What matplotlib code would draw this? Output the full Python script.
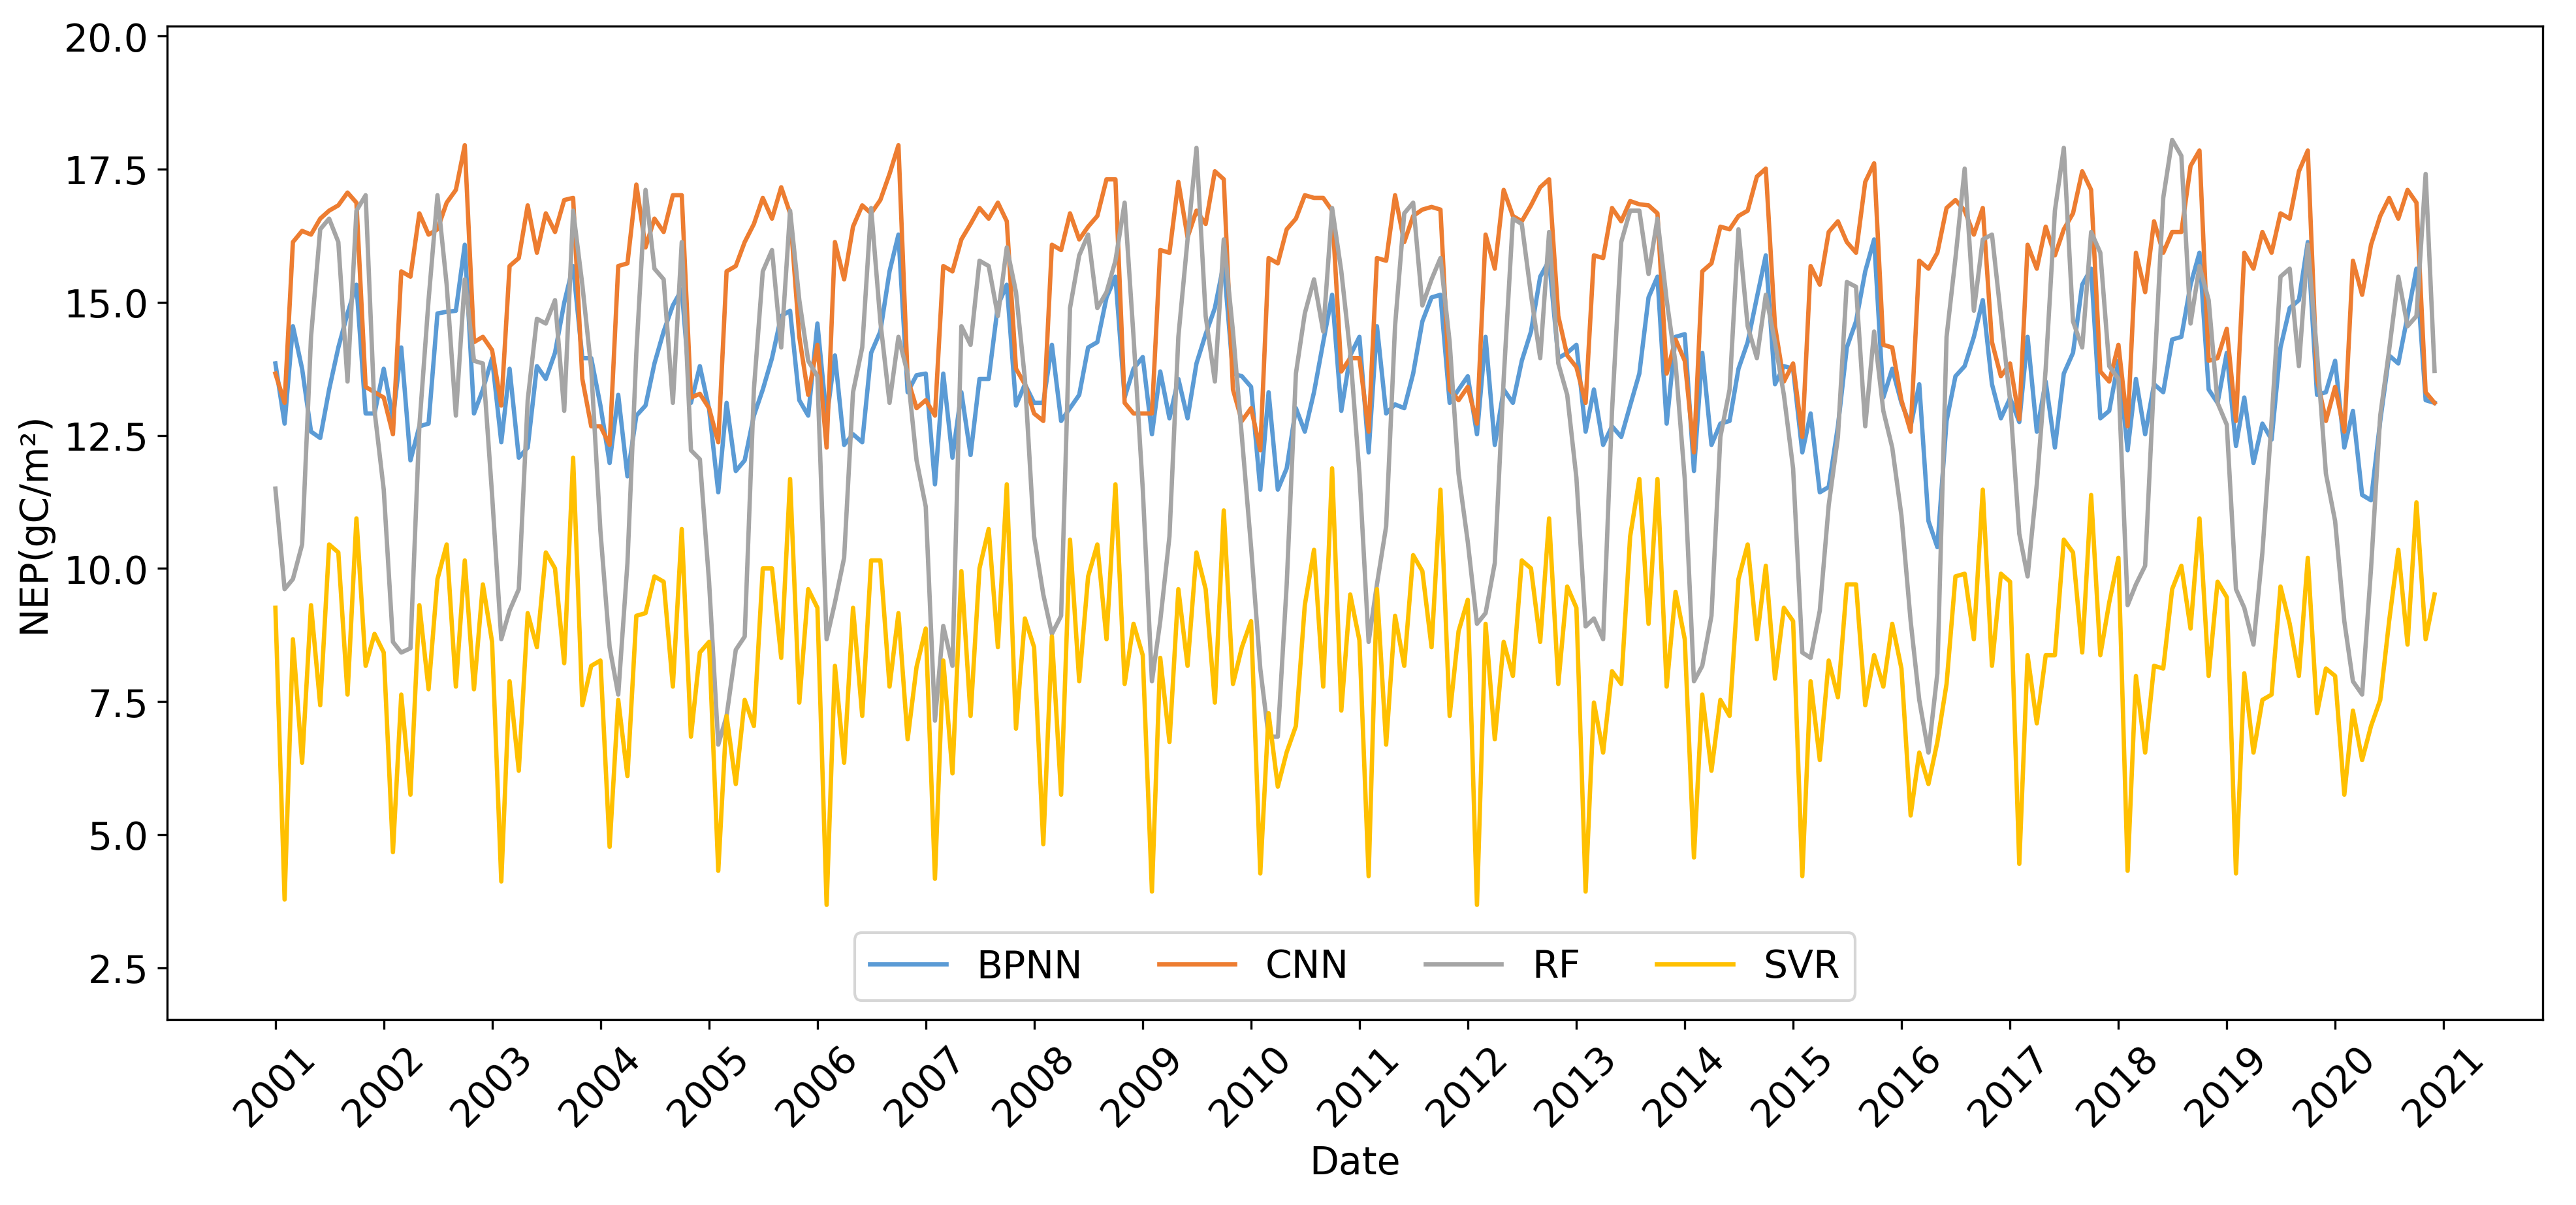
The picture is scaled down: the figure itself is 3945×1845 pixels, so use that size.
import matplotlib
matplotlib.use("Agg")
import matplotlib.pyplot as plt
import matplotlib.dates as mdates
import numpy as np
import pandas as pd

# monthly NEP estimates, Jan 2001 - Dec 2020 (one row per year)
dates = pd.date_range("2001-01-01", periods=240, freq="MS")

bpnn = [
    13.85, 12.72, 14.55, 13.75, 12.57, 12.45, 13.36, 14.15, 14.79, 15.33, 12.91, 12.91,
    13.75, 12.82, 14.15, 12.03, 12.67, 12.72, 14.79, 14.82, 14.84, 16.08, 12.91, 13.36,
    13.95, 12.37, 13.75, 12.08, 12.27, 13.80, 13.56, 14.05, 14.99, 15.68, 13.95, 13.95,
    13.06, 11.98, 13.26, 11.73, 12.87, 13.06, 13.85, 14.45, 14.94, 15.24, 13.11, 13.80,
    13.00, 11.43, 13.11, 11.83, 12.03, 12.87, 13.36, 13.95, 14.74, 14.84, 13.16, 12.87,
    14.60, 12.82, 14.00, 12.32, 12.52, 12.37, 14.05, 14.45, 15.58, 16.27, 13.31, 13.63,
    13.66, 11.58, 13.66, 12.08, 13.31, 12.13, 13.56, 13.56, 14.94, 15.33, 13.06, 13.46,
    13.11, 13.11, 14.20, 12.77, 13.01, 13.26, 14.15, 14.25, 15.09, 15.48, 13.21, 13.75,
    13.97, 12.52, 13.70, 12.82, 13.56, 12.82, 13.85, 14.40, 14.89, 15.73, 13.66, 13.61,
    13.41, 11.48, 13.31, 11.48, 11.88, 13.01, 12.57, 13.31, 14.25, 15.14, 12.96, 14.00,
    14.35, 12.18, 14.55, 12.91, 13.08, 13.01, 13.66, 14.64, 15.09, 15.14, 13.11, 13.36,
    13.61, 12.52, 14.35, 12.32, 13.36, 13.11, 13.90, 14.45, 15.48, 15.78, 13.95, 14.05,
    14.20, 12.57, 13.36, 12.32, 12.67, 12.47, 13.06, 13.66, 15.09, 15.48, 12.72, 14.35,
    14.40, 11.83, 14.05, 12.32, 12.72, 12.77, 13.75, 14.25, 15.09, 15.88, 13.46, 13.80,
    13.75, 12.18, 12.91, 11.43, 11.53, 12.67, 14.15, 14.64, 15.58, 16.18, 13.21, 13.75,
    13.11, 12.67, 13.46, 10.89, 10.40, 12.77, 13.61, 13.80, 14.35, 15.04, 13.46, 12.82,
    13.20, 12.75, 14.35, 12.57, 13.51, 12.27, 13.66, 14.05, 15.33, 15.63, 12.82, 12.96,
    13.90, 12.22, 13.56, 12.52, 13.46, 13.31, 14.30, 14.35, 15.33, 15.93, 13.36, 13.11,
    14.05, 12.30, 13.21, 11.98, 12.72, 12.42, 14.15, 14.89, 15.04, 16.13, 13.26, 13.31,
    13.90, 12.27, 12.96, 11.38, 11.28, 12.77, 14.00, 13.85, 14.74, 15.63, 13.16, 13.11,
]

cnn = [
    13.66, 13.11, 16.13, 16.34, 16.27, 16.57, 16.72, 16.82, 17.06, 16.87, 13.41, 13.31,
    13.21, 12.52, 15.58, 15.48, 16.67, 16.27, 16.37, 16.87, 17.11, 17.95, 14.25, 14.35,
    14.10, 13.06, 15.68, 15.83, 16.82, 15.93, 16.67, 16.32, 16.92, 16.96, 13.56, 12.67,
    12.67, 12.32, 15.68, 15.73, 17.21, 16.03, 16.57, 16.32, 17.01, 17.01, 13.21, 13.28,
    13.01, 12.37, 15.58, 15.68, 16.13, 16.47, 16.96, 16.57, 17.16, 16.67, 14.35, 13.26,
    14.20, 12.27, 16.13, 15.43, 16.42, 16.82, 16.67, 16.92, 17.41, 17.95, 13.56, 13.01,
    13.16, 12.87, 15.68, 15.58, 16.18, 16.47, 16.77, 16.57, 16.87, 16.52, 13.75, 13.46,
    12.91, 12.77, 16.08, 15.98, 16.67, 16.18, 16.42, 16.62, 17.31, 17.31, 13.11, 12.91,
    12.91, 12.91, 15.98, 15.93, 17.26, 16.22, 16.72, 16.47, 17.46, 17.31, 13.36, 12.77,
    13.01, 12.22, 15.83, 15.73, 16.37, 16.57, 17.01, 16.96, 16.96, 16.72, 13.70, 13.95,
    13.95, 12.57, 15.83, 15.78, 17.01, 16.13, 16.62, 16.74, 16.79, 16.74, 13.36, 13.16,
    13.41, 12.72, 16.27, 15.63, 17.11, 16.62, 16.52, 16.82, 17.16, 17.31, 14.74, 14.00,
    13.78, 13.11, 15.88, 15.83, 16.77, 16.52, 16.90, 16.84, 16.82, 16.67, 13.66, 14.30,
    13.90, 12.18, 15.58, 15.73, 16.42, 16.37, 16.62, 16.72, 17.36, 17.51, 14.55, 13.51,
    13.85, 12.47, 15.68, 15.33, 16.32, 16.52, 16.13, 15.93, 17.26, 17.61, 14.20, 14.15,
    13.16, 12.57, 15.78, 15.63, 15.93, 16.77, 16.92, 16.72, 16.27, 16.77, 14.25, 13.61,
    13.85, 12.80, 16.08, 15.63, 16.42, 15.88, 16.37, 16.67, 17.46, 17.11, 13.70, 13.51,
    14.20, 12.67, 15.93, 15.19, 16.52, 15.93, 16.32, 16.32, 17.56, 17.85, 13.90, 13.95,
    14.50, 12.77, 15.93, 15.63, 16.32, 15.93, 16.67, 16.57, 17.46, 17.85, 13.56, 12.77,
    13.41, 12.57, 15.78, 15.14, 16.08, 16.62, 16.96, 16.57, 17.11, 16.87, 13.31, 13.11,
]

rf = [
    11.50, 9.61, 9.80, 10.45, 14.35, 16.37, 16.57, 16.13, 13.51, 16.72, 17.01, 12.96,
    11.48, 8.62, 8.42, 8.50, 12.67, 15.04, 17.01, 15.33, 12.87, 15.43, 13.90, 13.85,
    11.38, 8.67, 9.21, 9.61, 13.16, 14.69, 14.60, 15.04, 12.96, 16.72, 15.33, 13.75,
    10.70, 8.52, 7.63, 10.10, 14.05, 17.11, 15.63, 15.43, 13.11, 16.13, 12.22, 12.05,
    9.75, 6.69, 7.23, 8.47, 8.72, 13.36, 15.58, 15.98, 14.15, 16.72, 15.04, 13.90,
    13.61, 8.67, 9.36, 10.20, 13.31, 14.15, 16.77, 14.64, 13.11, 14.35, 13.66, 12.03,
    11.16, 7.14, 8.92, 8.17, 14.55, 14.20, 15.78, 15.68, 14.74, 16.03, 15.19, 13.56,
    10.60, 9.51, 8.77, 9.11, 14.89, 15.88, 16.27, 14.89, 15.19, 15.78, 16.87, 14.35,
    11.50, 7.88, 9.01, 10.60, 14.35, 16.18, 17.90, 14.74, 13.51, 16.18, 14.45, 12.47,
    10.40, 8.12, 6.84, 6.84, 9.70, 13.66, 14.79, 15.43, 14.45, 16.77, 15.58, 14.05,
    11.78, 8.62, 9.70, 10.79, 14.55, 16.67, 16.87, 14.94, 15.43, 15.83, 14.25, 11.78,
    10.50, 8.96, 9.16, 10.10, 13.56, 16.57, 16.47, 15.14, 13.95, 16.32, 13.85, 13.26,
    11.70, 8.91, 9.06, 8.67, 12.96, 16.13, 16.72, 16.72, 15.53, 16.57, 15.04, 13.85,
    11.68, 7.88, 8.17, 9.11, 12.47, 13.36, 16.37, 14.55, 13.95, 15.14, 14.25, 13.26,
    11.88, 8.42, 8.32, 9.21, 11.19, 12.47, 15.38, 15.29, 12.67, 14.45, 12.96, 12.27,
    10.99, 9.01, 7.53, 6.54, 8.03, 14.35, 15.83, 17.51, 14.84, 16.18, 16.27, 14.74,
    13.16, 10.65, 9.85, 11.58, 13.75, 16.72, 17.90, 14.64, 14.15, 16.32, 15.93, 13.80,
    13.56, 9.31, 9.70, 10.05, 13.56, 16.96, 18.05, 17.75, 14.60, 15.68, 15.04, 13.11,
    12.70, 9.61, 9.26, 8.57, 10.30, 12.77, 15.48, 15.63, 13.80, 16.08, 14.05, 11.78,
    10.89, 9.01, 7.88, 7.63, 10.00, 12.87, 14.10, 15.48, 14.55, 14.74, 17.41, 13.71,
]

svr = [
    9.26, 3.78, 8.67, 6.35, 9.31, 7.43, 10.45, 10.30, 7.63, 10.94, 8.17, 8.77,
    8.42, 4.67, 7.63, 5.75, 9.31, 7.73, 9.80, 10.45, 7.78, 10.15, 7.73, 9.70,
    8.62, 4.12, 7.88, 6.20, 9.16, 8.52, 10.30, 10.00, 8.22, 12.08, 7.43, 8.17,
    8.27, 4.77, 7.53, 6.10, 9.11, 9.16, 9.85, 9.75, 7.78, 10.74, 6.84, 8.42,
    8.62, 4.32, 7.23, 5.95, 7.53, 7.04, 10.00, 10.00, 8.32, 11.68, 7.48, 9.61,
    9.26, 3.68, 8.17, 6.35, 9.26, 7.23, 10.15, 10.15, 7.78, 9.16, 6.79, 8.15,
    8.87, 4.17, 8.27, 6.15, 9.95, 7.23, 10.00, 10.74, 8.52, 11.58, 6.99, 9.06,
    8.52, 4.82, 8.72, 5.75, 10.54, 7.88, 9.85, 10.45, 8.67, 11.58, 7.83, 8.96,
    8.37, 3.93, 8.32, 6.74, 9.61, 8.17, 10.30, 9.61, 7.48, 11.09, 7.83, 8.52,
    9.01, 4.27, 7.28, 5.90, 6.55, 7.04, 9.31, 10.35, 7.78, 11.88, 7.33, 9.51,
    8.65, 4.22, 9.61, 6.69, 9.11, 8.17, 10.25, 9.95, 8.52, 11.48, 7.23, 8.82,
    9.41, 3.68, 8.96, 6.79, 8.62, 7.98, 10.15, 10.00, 8.62, 10.94, 7.83, 9.66,
    9.26, 3.93, 7.48, 6.54, 8.07, 7.83, 10.60, 11.68, 8.96, 11.68, 7.78, 9.56,
    8.67, 4.57, 7.63, 6.20, 7.53, 7.23, 9.80, 10.45, 8.67, 10.05, 7.93, 9.26,
    9.01, 4.22, 7.88, 6.40, 8.27, 7.58, 9.70, 9.70, 7.43, 8.37, 7.78, 8.96,
    8.12, 5.36, 6.54, 5.95, 6.74, 7.83, 9.85, 9.90, 8.67, 11.48, 8.17, 9.90,
    9.75, 4.45, 8.37, 7.09, 8.37, 8.37, 10.54, 10.30, 8.42, 11.38, 8.37, 9.36,
    10.20, 4.32, 7.98, 6.54, 8.17, 8.12, 9.61, 10.05, 8.87, 10.94, 7.98, 9.75,
    9.46, 4.27, 8.03, 6.54, 7.53, 7.63, 9.66, 8.96, 7.98, 10.20, 7.28, 8.12,
    7.98, 5.75, 7.33, 6.40, 7.04, 7.53, 9.01, 10.35, 8.57, 11.24, 8.67, 9.51,
]

series = [("BPNN", bpnn, "#5B9BD5"), ("CNN", cnn, "#ED7D31"),
          ("RF", rf, "#A5A5A5"), ("SVR", svr, "#FFC000")]

FS = 14
fig, ax = plt.subplots(figsize=(13.15, 6.153))
fig.subplots_adjust(left=0.065, right=0.987, bottom=0.154, top=0.978)

for name, vals, c in series:
    ax.plot(dates, vals, color=c, lw=1.6, label=name)

ax.xaxis.set_major_locator(mdates.YearLocator())
ax.xaxis.set_major_formatter(mdates.DateFormatter("%Y"))
ax.set_ylim(1.53, 20.19)
ax.set_yticks(np.arange(2.5, 20.01, 2.5))
ax.tick_params(labelsize=FS)
plt.setp(ax.get_xticklabels(), rotation=45)
ax.set_xlabel("Date", fontsize=FS)
ax.set_ylabel("NEP(gC/m²)", fontsize=FS)
ax.legend(loc="lower center", ncol=4, fontsize=FS)

fig.savefig("out.png", dpi=300)
